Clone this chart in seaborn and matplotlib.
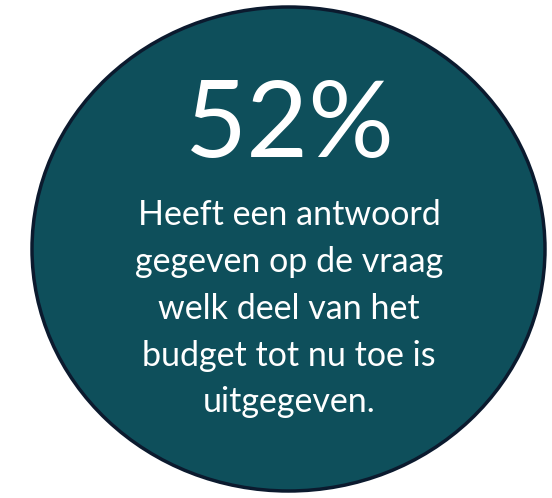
"""Single statistic badge: 52% answered the budget question."""
import matplotlib
matplotlib.use("Agg")
import matplotlib.pyplot as plt
from matplotlib.patches import Ellipse
import seaborn as sns

# data
percent_value = [52]
label_lines = [
    "Heeft een antwoord",
    "gegeven op de vraag",
    "welk deel van het",
    "budget tot nu toe is",
    "uitgegeven.",
]

fill_color = "#0e4f5b"
edge_color = "#0b1a2e"

sns.set_theme(style="white")
plt.rcParams["font.family"] = ["Lato", "DejaVu Sans"]

fig = plt.figure(figsize=(5.52, 4.98), dpi=100)
ax = fig.add_axes([0, 0, 1, 1])
ax.set_xlim(0, 552)
ax.set_ylim(498, 0)
ax.axis("off")

circle = Ellipse((288.5, 249), 513, 484, facecolor=fill_color,
                 edgecolor=edge_color, linewidth=2.5)
ax.add_patch(circle)

ax.text(290, 127, f"{percent_value[0]}%", color="white", fontsize=77,
        ha="center", va="center")

line_y = [215, 262, 309, 356, 402]
for y, line in zip(line_y, label_lines):
    ax.text(289, y, line, color="white", fontsize=24.5, ha="center", va="center")

fig.savefig("out.png", dpi=100)
